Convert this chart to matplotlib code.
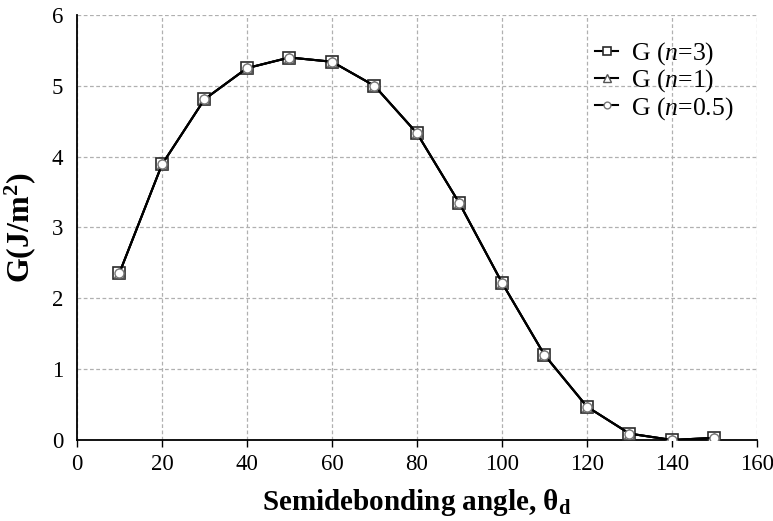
import matplotlib
matplotlib.use("Agg")
import matplotlib.pyplot as plt

plt.rcParams['font.family'] = ['Liberation Serif', 'DejaVu Serif']
plt.rcParams['mathtext.fontset'] = 'custom'
plt.rcParams['mathtext.rm'] = 'Liberation Serif'
plt.rcParams['mathtext.it'] = 'Liberation Serif:italic'
plt.rcParams['mathtext.bf'] = 'Liberation Serif:bold'

angle = [10, 20, 30, 40, 50, 60, 70, 80, 90, 100, 110, 120, 130, 140, 150]
g_n3 = [2.36, 3.89, 4.81, 5.25, 5.40, 5.34, 5.00, 4.33, 3.34, 2.22, 1.20, 0.47, 0.09, 0.00, 0.03]
g_n1 = [2.36, 3.89, 4.81, 5.25, 5.40, 5.34, 5.00, 4.33, 3.34, 2.22, 1.20, 0.47, 0.09, 0.00, 0.03]
g_n05 = [2.36, 3.89, 4.81, 5.25, 5.40, 5.34, 5.00, 4.33, 3.34, 2.22, 1.20, 0.47, 0.09, 0.00, 0.03]

fig = plt.figure(figsize=(7.73, 5.21), dpi=100)
ax = fig.add_axes([0.0996, 0.1555, 0.8797, 0.8157])

ax.plot(angle, g_n3, color='black', lw=1.5, marker='s', ms=8.5, mfc='white',
        mec='#2a2a2a', mew=1.2, label=r'G ($\mathit{n}$=3)', zorder=3)
ax.plot(angle, g_n1, color='black', lw=1.5, marker='^', ms=7, mfc='white',
        mec='#555555', mew=1.0, label=r'G ($\mathit{n}$=1)', zorder=4)
ax.plot(angle, g_n05, color='black', lw=1.5, marker='o', ms=6.5, mfc='white',
        mec='#777777', mew=1.0, label=r'G ($\mathit{n}$=0.5)', zorder=5)

ax.set_xlim(0, 160)
ax.set_ylim(0, 6)
ax.set_xticks(range(0, 161, 20))
ax.set_yticks(range(0, 7))
ax.grid(True, color='#b0b0b0', linestyle=(0, (3, 2)), linewidth=0.9)
ax.set_axisbelow(True)
for s in ('top', 'right'):
    ax.spines[s].set_visible(False)
for s in ('left', 'bottom'):
    ax.spines[s].set_linewidth(1.3)
ax.tick_params(axis='x', labelsize=16.5, direction='out', length=5, width=1, colors='black', pad=5)
ax.tick_params(axis='y', labelsize=16.5, length=0, colors='black', pad=10)

ax.set_xlabel(r'Semidebonding angle, $\mathbf{\theta_d}$', fontsize=21, fontweight='bold', labelpad=9)
ax.set_ylabel(r'G(J/m$^\mathbf{2}$)', fontsize=23, fontweight='bold', labelpad=10)

leg = ax.legend(loc='upper right', bbox_to_anchor=(1.0, 0.995), frameon=False, fontsize=18.5,
                handlelength=0.9, handletextpad=0.5, labelspacing=0.02, markerscale=0.75)

fig.savefig('out.png', dpi=100)
